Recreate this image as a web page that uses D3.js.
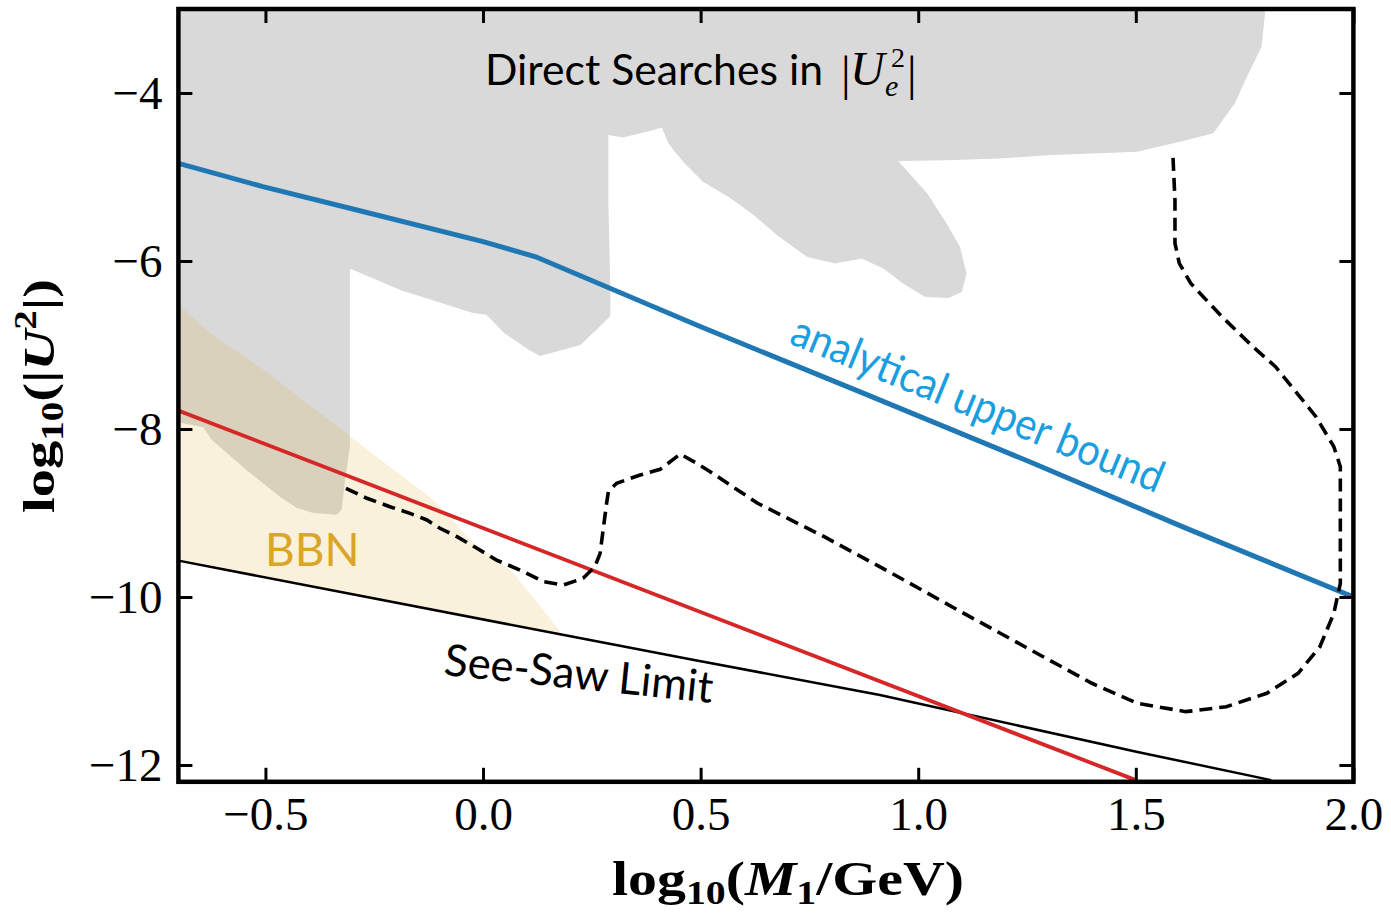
<!DOCTYPE html>
<html>
<head>
<meta charset="utf-8">
<script src="https://cdn.jsdelivr.net/npm/d3@7"></script>
<style>
  body { margin: 0; background: #fff; }
  svg { display: block; }
</style>
</head>
<body>
<div id="chart"></div>
<script>
// axis ticks
var xTicks = [-0.5, 0.0, 0.5, 1.0, 1.5, 2.0];
var yTicks = [-4, -6, -8, -10, -12];

// grey excluded region (direct searches in |Ue^2|), [log10 M, log10 U^2]
var directSearches = [
  [-0.70,-3.00],[1.798,-3.00],[1.789,-3.45],[1.755,-3.81],[1.728,-4.12],[1.678,-4.48],
  [1.602,-4.58],[1.502,-4.70],[1.297,-4.74],[1.188,-4.78],[1.065,-4.80],[0.954,-4.81],
  [1.020,-5.19],[1.065,-5.55],[1.096,-5.83],[1.111,-6.15],[1.100,-6.37],[1.069,-6.44],
  [1.016,-6.43],[0.966,-6.27],[0.920,-6.09],[0.870,-5.97],[0.809,-6.03],[0.744,-5.95],
  [0.675,-5.69],[0.621,-5.45],[0.568,-5.25],[0.506,-5.06],[0.460,-4.82],[0.426,-4.60],
  [0.411,-4.41],[0.376,-4.46],[0.322,-4.53],[0.288,-4.50],[0.288,-5.27],[0.293,-6.46],
  [0.292,-6.66],[0.224,-7.00],[0.131,-7.13],[0.106,-7.06],[0.049,-6.86],[0.008,-6.64],
  [-0.023,-6.62],[-0.187,-6.35],[-0.279,-6.15],[-0.306,-6.09],[-0.306,-8.21],[-0.317,-8.61],
  [-0.325,-8.96],[-0.336,-9.02],[-0.390,-9.00],[-0.428,-8.94],[-0.466,-8.81],[-0.543,-8.49],
  [-0.623,-8.13],[-0.643,-7.98],[-0.70,-7.92]
];

// upper edge of the BBN region (lower edge is the see-saw line)
var bbnUpper = [
  [-0.70,-6.52],[-0.627,-6.857],[-0.494,-7.333],[-0.306,-8.083],[-0.244,-8.333],
  [-0.122,-8.81],[-0.085,-9.00],[-0.030,-9.32],[0.069,-9.71],[0.138,-10.155],[0.183,-10.45]
];

var seeSaw = [[-0.70,-9.567],[0.183,-10.45],[0.476,-10.74],[0.912,-11.167],[1.504,-11.845],[1.811,-12.18]];

var analyticalBound = [
  [-0.70,-4.837],[-0.506,-5.115],[-0.290,-5.393],[0.0,-5.77],[0.121,-5.95],
  [0.499,-6.78],[0.886,-7.60],[1.256,-8.39],[1.615,-9.18],[2.0,-10.0]
];

var redBound = [[-0.70,-7.78],[1.50,-12.18]];

var dashedContour = [
  [-0.315,-8.706],[-0.267,-8.825],[-0.214,-8.925],[-0.168,-9.004],[-0.129,-9.083],[-0.099,-9.182],
  [-0.060,-9.282],[-0.014,-9.42],[0.031,-9.56],[0.085,-9.68],[0.139,-9.818],[0.185,-9.857],
  [0.230,-9.777],[0.257,-9.64],[0.269,-9.48],[0.276,-9.20],[0.284,-8.885],[0.288,-8.746],
  [0.307,-8.646],[0.361,-8.548],[0.407,-8.48],[0.453,-8.298],[0.491,-8.408],[0.522,-8.508],
  [0.630,-8.881],[0.784,-9.282],[0.938,-9.714],[1.091,-10.155],[1.245,-10.592],[1.399,-11.027],
  [1.503,-11.265],[1.615,-11.365],[1.708,-11.306],[1.801,-11.146],[1.873,-10.908],[1.923,-10.592],
  [1.955,-10.194],[1.970,-9.837],[1.970,-8.449],[1.955,-8.21],[1.914,-7.854],[1.821,-7.258],
  [1.769,-7.02],[1.698,-6.663],[1.626,-6.265],[1.600,-6.027],[1.590,-5.789],[1.590,-5.274],
  [1.585,-4.718]
];

var W = 1391, H = 913;
var serif = "'Liberation Serif','Times New Roman',serif";
var sans = "Lato,'Open Sans',sans-serif";

var svg = d3.select("#chart").append("svg").attr("width", W).attr("height", H);

var x = d3.scaleLinear().domain([-0.7, 2.0]).range([178.4, 1353.4]);
var y = d3.scaleLinear().domain([-12.2, -3]).range([781.8, 9]);

svg.append("clipPath").attr("id", "plotclip").append("rect")
  .attr("x", x(-0.7)).attr("y", y(-3))
  .attr("width", x(2.0) - x(-0.7)).attr("height", y(-12.2) - y(-3));

var plot = svg.append("g").attr("clip-path", "url(#plotclip)");

var line = d3.line().x(function(d){ return x(d[0]); }).y(function(d){ return y(d[1]); });

plot.append("path").datum(directSearches)
  .attr("d", function(d){ return line(d) + "Z"; })
  .attr("fill", "#d9d9d9");

var bbnPoly = bbnUpper.concat(seeSaw.filter(function(d){ return d[0] < 0.183; }).reverse());
plot.append("path").datum(bbnPoly)
  .attr("d", function(d){ return line(d) + "Z"; })
  .attr("fill", "#daa520").attr("fill-opacity", 0.16);

plot.append("path").datum(seeSaw).attr("d", line)
  .attr("fill", "none").attr("stroke", "#000").attr("stroke-width", 2.5);

plot.append("path").datum(redBound).attr("d", line)
  .attr("fill", "none").attr("stroke", "#d62728").attr("stroke-width", 3.8);

plot.append("path").datum(analyticalBound).attr("d", line)
  .attr("fill", "none").attr("stroke", "#1f77b4").attr("stroke-width", 5);

plot.append("path").datum(dashedContour).attr("d", line)
  .attr("fill", "none").attr("stroke", "#000").attr("stroke-width", 3.6)
  .attr("stroke-dasharray", "13,7");

// annotations
svg.append("text").attr("x", 485).attr("y", 85)
  .attr("font-family", sans).attr("font-size", 42)
  .attr("textLength", 338).attr("lengthAdjust", "spacingAndGlyphs")
  .text("Direct Searches in");
var m = svg.append("g").attr("font-family", serif);
m.append("text").attr("x", 841).attr("y", 90).attr("font-size", 48).text("|");
m.append("text").attr("x", 850).attr("y", 85).attr("font-size", 48).attr("font-style", "italic").text("U");
m.append("text").attr("x", 891).attr("y", 67).attr("font-size", 28).text("2");
m.append("text").attr("x", 885).attr("y", 96).attr("font-size", 30).attr("font-style", "italic").text("e");
m.append("text").attr("x", 907).attr("y", 90).attr("font-size", 48).text("|");

svg.append("text")
  .attr("transform", "translate(788,343) rotate(22.2)")
  .attr("font-family", sans).attr("font-size", 44).attr("fill", "#1a9ee0")
  .attr("textLength", 398).attr("lengthAdjust", "spacingAndGlyphs")
  .text("analytical upper bound");

svg.append("text").attr("x", 265).attr("y", 566)
  .attr("font-family", sans).attr("font-size", 46).attr("fill", "#dba628")
  .text("BBN");

svg.append("text")
  .attr("transform", "translate(443,675) rotate(5.9)")
  .attr("font-family", sans).attr("font-size", 44).attr("fill", "#000")
  .attr("textLength", 270).attr("lengthAdjust", "spacingAndGlyphs")
  .text("See-Saw Limit");

// axes
var fmtX = d3.format(".1f"), fmtY = d3.format("d");
var gx = svg.append("g").attr("transform", "translate(0," + y(-12.2) + ")")
  .call(d3.axisBottom(x).tickValues(xTicks).tickSize(-14).tickPadding(15).tickFormat(fmtX));
var gxt = svg.append("g").attr("transform", "translate(0," + y(-3) + ")")
  .call(d3.axisTop(x).tickValues(xTicks).tickSize(-14).tickFormat(""));
var gy = svg.append("g").attr("transform", "translate(" + x(-0.7) + ",0)")
  .call(d3.axisLeft(y).tickValues(yTicks).tickSize(-14).tickPadding(16).tickFormat(fmtY));
var gyr = svg.append("g").attr("transform", "translate(" + x(2.0) + ",0)")
  .call(d3.axisRight(y).tickValues(yTicks).tickSize(-14).tickFormat(""));

[gx, gxt, gy, gyr].forEach(function(g){
  g.select(".domain").remove();
  g.selectAll(".tick line").attr("stroke", "#000").attr("stroke-width", 3);
  g.selectAll(".tick text").attr("font-family", serif).attr("font-size", 47).attr("fill", "#000");
});

svg.append("rect")
  .attr("x", x(-0.7)).attr("y", y(-3))
  .attr("width", x(2.0) - x(-0.7)).attr("height", y(-12.2) - y(-3))
  .attr("fill", "none").attr("stroke", "#000").attr("stroke-width", 4.5);

// axis titles
var xl = svg.append("text").attr("x", 612).attr("y", 895)
  .attr("font-family", serif).attr("font-weight", "bold").attr("font-size", 48)
  .attr("textLength", 352).attr("lengthAdjust", "spacingAndGlyphs");
xl.append("tspan").text("log");
xl.append("tspan").attr("font-size", 33).attr("dy", 9).text("10");
xl.append("tspan").attr("dy", -9).text("(");
xl.append("tspan").attr("font-style", "italic").text("M");
xl.append("tspan").attr("font-size", 33).attr("dy", 9).text("1");
xl.append("tspan").attr("dy", -9).text("/GeV)");

var yl = svg.append("text").attr("transform", "translate(54,513) rotate(-90)")
  .attr("font-family", serif).attr("font-weight", "bold").attr("font-size", 45)
  .attr("textLength", 234).attr("lengthAdjust", "spacingAndGlyphs");
yl.append("tspan").text("log");
yl.append("tspan").attr("font-size", 31).attr("dy", 9).text("10");
yl.append("tspan").attr("dy", -9).text("(|");
yl.append("tspan").attr("font-style", "italic").text("U");
yl.append("tspan").attr("font-size", 31).attr("dy", -18).text("2");
yl.append("tspan").attr("dy", 18).text("|)");
</script>
</body>
</html>
